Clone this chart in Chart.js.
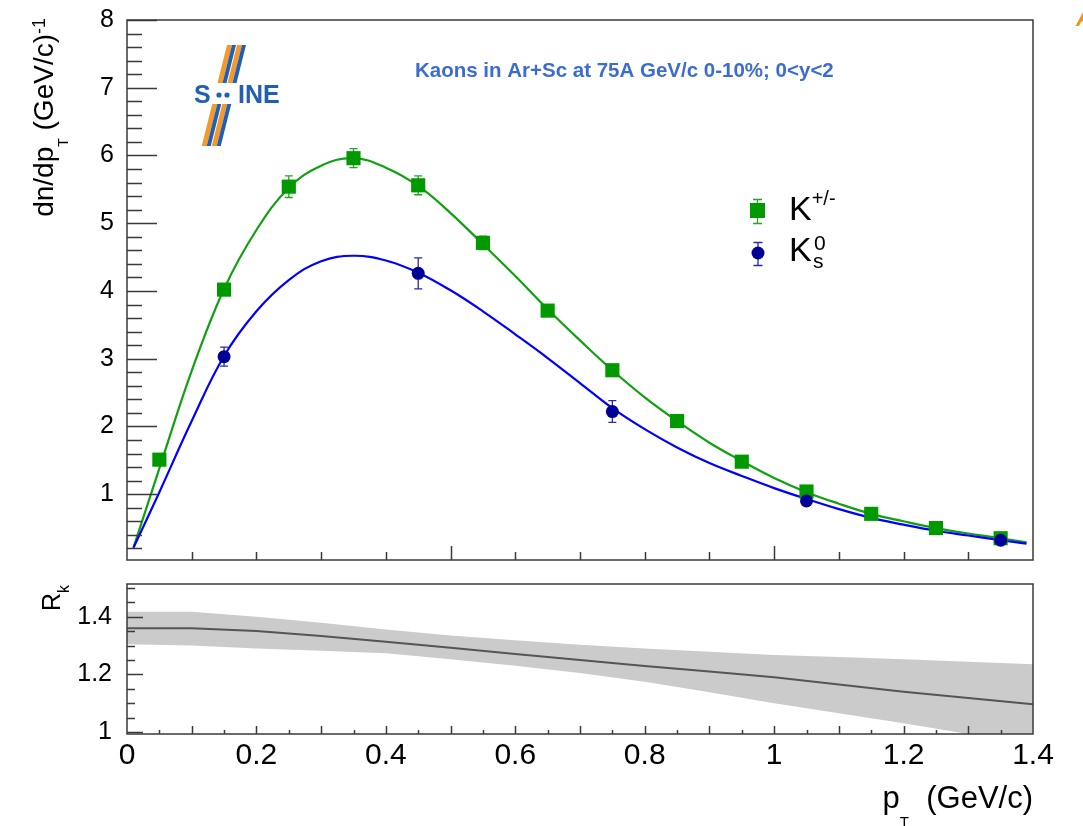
<!DOCTYPE html>
<html>
<head>
<meta charset="utf-8">
<title>Kaons in Ar+Sc at 75A GeV/c</title>
<script src="https://cdn.jsdelivr.net/npm/chart.js@4/dist/chart.umd.min.js"></script>
<style>
    html, body { margin: 0; padding: 0; background: #fff; }
    #wrap { position: relative; width: 1083px; height: 826px; overflow: hidden; background: #fff; }
    canvas { position: absolute; left: 0; }
    #topChart { top: 0; }
    #ratioChart { top: 556px; }
</style>
</head>
<body>
<div id="wrap">
    <canvas id="topChart" width="1083" height="580"></canvas>
    <canvas id="ratioChart" width="1083" height="270"></canvas>
</div>
<script>
// fit curves
const fitX = [0.01, 0.05, 0.10, 0.15, 0.20, 0.25, 0.30, 0.35, 0.40, 0.45, 0.50, 0.55, 0.60, 0.65, 0.70,
              0.75, 0.80, 0.85, 0.90, 0.95, 1.00, 1.05, 1.10, 1.15, 1.20, 1.25, 1.30, 1.35, 1.39];
const fitKch = [0.21, 1.38, 2.82, 4.03, 4.90, 5.52, 5.85, 5.96, 5.82, 5.55, 5.15, 4.69, 4.22, 3.73, 3.27,
                2.83, 2.43, 2.08, 1.76, 1.49, 1.24, 1.03, 0.86, 0.71, 0.60, 0.50, 0.42, 0.35, 0.29];
const fitK0 = [0.21, 1.03, 2.08, 3.04, 3.70, 4.16, 4.44, 4.52, 4.45, 4.27, 4.01, 3.70, 3.36, 3.01, 2.64,
               2.27, 1.96, 1.69, 1.46, 1.27, 1.09, 0.93, 0.78, 0.65, 0.55, 0.46, 0.39, 0.32, 0.27];

// measured points
const kchX = [0.05, 0.15, 0.25, 0.35, 0.45, 0.55, 0.65, 0.75, 0.85, 0.95, 1.05, 1.15, 1.25, 1.35];
const kch = [1.51, 4.02, 5.54, 5.96, 5.56, 4.71, 3.71, 2.83, 2.08, 1.48, 1.04, 0.71, 0.50, 0.35];
const kchErr = [0.05, 0.08, 0.16, 0.14, 0.14, 0.10, 0.08, 0.06, 0.05, 0.04, 0.04, 0.03, 0.03, 0.02];
const k0X = [0.15, 0.45, 0.75, 1.05, 1.35];
const k0 = [3.03, 4.26, 2.22, 0.90, 0.32];
const k0Err = [0.14, 0.23, 0.16, 0.05, 0.04];

// ratio panel R_k with its band
const ratioX = [0, 0.1, 0.2, 0.3, 0.4, 0.5, 0.6, 0.7, 0.8, 0.9, 1.0, 1.1, 1.2, 1.3, 1.4];
const ratio = [1.36, 1.36, 1.35, 1.333, 1.313, 1.292, 1.271, 1.25, 1.229, 1.21, 1.19, 1.165, 1.14, 1.118, 1.096];
const ratioHi = [1.417, 1.417, 1.40, 1.379, 1.356, 1.335, 1.318, 1.303, 1.29, 1.278, 1.267, 1.26, 1.252, 1.244, 1.235];
const ratioLo = [1.304, 1.30, 1.29, 1.282, 1.273, 1.252, 1.23, 1.205, 1.174, 1.138, 1.10, 1.065, 1.03, 0.993, 0.958];

// tick labels
const topYTicks = [1, 2, 3, 4, 5, 6, 7, 8];
const ratioYTicks = [1, 1.2, 1.4];
const ratioXTicks = [0, 0.2, 0.4, 0.6, 0.8, 1.0, 1.2, 1.4];

const FONT = '"Liberation Sans", Arial, Helvetica, sans-serif';
Chart.defaults.font.family = FONT;
Chart.defaults.color = '#000';

const RATIO_TOP = 556; // page offset of the ratio canvas

function pts(xs, ys) {
    return xs.map((x, i) => ({ x: x, y: ys[i] }));
}

function range(a, b, step) {
    const out = [];
    for (let v = a; v <= b + 1e-9; v += step) out.push(Math.round(v * 1000) / 1000);
    return out;
}

function fmt(v) {
    return String(Math.round(v * 100) / 100);
}

// text with sub/superscripts: parts = [text, size, dy]
function richText(ctx, parts, x, y, align, weight) {
    let w = 0;
    parts.forEach(p => {
        ctx.font = (weight || '') + ' ' + p[1] + 'px ' + FONT;
        w += ctx.measureText(p[0]).width;
    });
    let cx = align === 'right' ? x - w : x;
    ctx.textAlign = 'left';
    ctx.textBaseline = 'alphabetic';
    parts.forEach(p => {
        ctx.font = (weight || '') + ' ' + p[1] + 'px ' + FONT;
        ctx.fillText(p[0], cx, y + (p[2] || 0));
        cx += ctx.measureText(p[0]).width;
    });
}

// ROOT style frame with ticks on the inside
function frameTicks(spec) {
    return {
        id: 'frameTicks',
        afterDraw(chart) {
            const { ctx, chartArea: a, scales: { x, y } } = chart;
            ctx.save();
            ctx.strokeStyle = '#3a3a3a';
            ctx.lineWidth = 1.5;
            ctx.strokeRect(a.left, a.top, a.right - a.left, a.bottom - a.top);
            ctx.beginPath();
            spec.x.forEach(([vals, len]) => vals.forEach(v => {
                const px = Math.round(x.getPixelForValue(v)) + 0.5;
                ctx.moveTo(px, a.bottom);
                ctx.lineTo(px, a.bottom - len);
            }));
            spec.y.forEach(([vals, len]) => vals.forEach(v => {
                const py = Math.round(y.getPixelForValue(v)) + 0.5;
                ctx.moveTo(a.left, py);
                ctx.lineTo(a.left + len, py);
            }));
            ctx.stroke();
            ctx.restore();
        }
    };
}

function drawBars(ctx, x, y, xs, ys, errs, color) {
    ctx.strokeStyle = color;
    ctx.lineWidth = 1.3;
    ctx.beginPath();
    xs.forEach((xv, i) => {
        const px = x.getPixelForValue(xv);
        const y0 = y.getPixelForValue(ys[i] - errs[i]);
        const y1 = y.getPixelForValue(ys[i] + errs[i]);
        ctx.moveTo(px, y0); ctx.lineTo(px, y1);
        ctx.moveTo(px - 4, y0); ctx.lineTo(px + 4, y0);
        ctx.moveTo(px - 4, y1); ctx.lineTo(px + 4, y1);
    });
    ctx.stroke();
}

const errorBars = {
    id: 'errorBars',
    beforeDatasetsDraw(chart) {
        const { ctx, scales: { x, y } } = chart;
        ctx.save();
        drawBars(ctx, x, y, kchX, kch, kchErr, '#25a525');
        drawBars(ctx, x, y, k0X, k0, k0Err, '#2a2aa8');
        ctx.restore();
    }
};

function drawLogo(ctx) {
    ctx.save();
    // slanted stripes, broken around the lettering
    const stripes = [[227, '#f39a2b', 5], [232, '#1f5fb4', 4], [237, '#f39a2b', 5], [242, '#1f5fb4', 4]];
    const slope = -25 / 100;
    [[45, 83], [104, 146]].forEach(([t, b]) => {
        stripes.forEach(([x0, col, w]) => {
            const xt = x0 + slope * (t - 45);
            const xb = x0 + slope * (b - 45);
            ctx.fillStyle = col;
            ctx.beginPath();
            ctx.moveTo(xt, t); ctx.lineTo(xt + w, t);
            ctx.lineTo(xb + w, b); ctx.lineTo(xb, b);
            ctx.closePath();
            ctx.fill();
        });
    });
    ctx.fillStyle = '#1f5fb4';
    ctx.font = 'bold 25px ' + FONT;
    ctx.textBaseline = 'alphabetic';
    ctx.textAlign = 'left';
    ctx.fillText('S', 194, 103);
    ctx.fillText('INE', 238, 103);
    ctx.beginPath();
    ctx.arc(219, 95, 2.6, 0, Math.PI * 2);
    ctx.arc(227, 95, 2.6, 0, Math.PI * 2);
    ctx.fill();
    ctx.restore();
}

const topDecor = {
    id: 'topDecor',
    afterDraw(chart) {
        const ctx = chart.ctx;
        ctx.save();
        ctx.fillStyle = '#000';

        // y axis title
        ctx.save();
        ctx.translate(53, 18);
        ctx.rotate(-Math.PI / 2);
        richText(ctx, [['dn/dp', 28, 0], ['T', 14, 15], [' (GeV/c)', 28, 0], ['-1', 18, -8]], 0, 0, 'right');
        ctx.restore();

        // caption
        ctx.fillStyle = '#3d6cd1';
        ctx.font = 'bold 20.5px ' + FONT;
        ctx.textAlign = 'left';
        ctx.textBaseline = 'alphabetic';
        ctx.fillText('Kaons in Ar+Sc at 75A GeV/c 0-10%; 0<y<2', 415, 77);

        // clipped letter at the right edge
        ctx.fillStyle = '#f29419';
        ctx.font = 'italic bold 24px ' + FONT;
        ctx.fillText('A', 1076, 26);

        drawLogo(ctx);

        // legend
        ctx.strokeStyle = '#25a525';
        ctx.lineWidth = 1.3;
        ctx.beginPath();
        ctx.moveTo(757.5, 199); ctx.lineTo(757.5, 224);
        ctx.moveTo(753, 199.5); ctx.lineTo(762, 199.5);
        ctx.moveTo(753, 223.5); ctx.lineTo(762, 223.5);
        ctx.stroke();
        ctx.fillStyle = '#009900';
        ctx.fillRect(750, 203, 15, 15);

        ctx.strokeStyle = '#2a2aa8';
        ctx.beginPath();
        ctx.moveTo(758, 242); ctx.lineTo(758, 266);
        ctx.moveTo(753.5, 242.5); ctx.lineTo(762.5, 242.5);
        ctx.moveTo(753.5, 265.5); ctx.lineTo(762.5, 265.5);
        ctx.stroke();
        ctx.fillStyle = '#000099';
        ctx.beginPath();
        ctx.arc(758, 253, 6.5, 0, Math.PI * 2);
        ctx.fill();

        ctx.fillStyle = '#000';
        richText(ctx, [['K', 34, 0], ['+/-', 20, -15]], 789, 220, 'left');
        richText(ctx, [['K', 34, 0]], 789, 261, 'left');
        richText(ctx, [['0', 21, 0]], 814, 250, 'left');
        richText(ctx, [['s', 21, 0]], 813, 268, 'left');
        ctx.restore();
    }
};

const ratioDecor = {
    id: 'ratioDecor',
    afterDraw(chart) {
        const ctx = chart.ctx;
        ctx.save();
        ctx.fillStyle = '#000';
        // R_k title
        ctx.save();
        ctx.translate(60, 585 - RATIO_TOP);
        ctx.rotate(-Math.PI / 2);
        richText(ctx, [['R', 25, 0], ['k', 16, 9]], 0, 0, 'right');
        ctx.restore();
        // x axis title
        richText(ctx, [['p', 31, 0], ['T', 15, 19], ['  (GeV/c)', 31, 0]], 1033, 808 - RATIO_TOP, 'right');
        ctx.restore();
    }
};

// upper panel
new Chart(document.getElementById('topChart'), {
    type: 'scatter',
    data: {
        datasets: [
            {
                data: pts(k0X, k0),
                pointStyle: 'circle',
                pointRadius: 6.5,
                backgroundColor: '#000099',
                borderColor: '#000099',
                borderWidth: 0,
                showLine: false
            },
            {
                data: pts(kchX, kch),
                pointStyle: 'rect',
                pointRadius: 10,
                backgroundColor: '#009900',
                borderColor: '#009900',
                borderWidth: 0,
                showLine: false
            },
            {
                data: pts(fitX, fitK0),
                showLine: true,
                borderColor: '#0000ff',
                borderWidth: 2.2,
                pointRadius: 0,
                tension: 0.4
            },
            {
                data: pts(fitX, fitKch),
                showLine: true,
                borderColor: '#10a010',
                borderWidth: 2.2,
                pointRadius: 0,
                tension: 0.4
            }
        ]
    },
    options: {
        responsive: false,
        animation: false,
        devicePixelRatio: 1,
        events: [],
        layout: { padding: { left: 0, right: 50, top: 18, bottom: 4 } },
        plugins: {
            legend: { display: false },
            tooltip: { enabled: false }
        },
        scales: {
            x: { type: 'linear', display: false, min: 0, max: 1.4 },
            y: {
                type: 'linear',
                min: 0.0286,
                max: 8,
                afterFit: s => { s.width = 127; },
                afterBuildTicks: s => { s.ticks = topYTicks.map(v => ({ value: v })); },
                ticks: { font: { size: 25 }, padding: 5, color: '#000', callback: v => fmt(v) },
                grid: { display: false },
                border: { display: false }
            }
        }
    },
    plugins: [
        errorBars,
        frameTicks({
            x: [[[0.5, 1.0], 14], [[0.1, 0.2, 0.3, 0.4, 0.6, 0.7, 0.8, 0.9, 1.1, 1.2, 1.3], 8]],
            y: [[topYTicks, 30], [range(0.2, 7.8, 0.2).filter(v => Math.abs(v - Math.round(v)) > 0.01), 15]]
        }),
        topDecor
    ]
});

// ratio panel
new Chart(document.getElementById('ratioChart'), {
    type: 'scatter',
    data: {
        datasets: [
            {
                data: pts(ratioX, ratio),
                showLine: true,
                borderColor: '#555',
                borderWidth: 2,
                pointRadius: 0,
                tension: 0
            },
            {
                data: pts(ratioX, ratioHi),
                showLine: true,
                borderColor: 'rgba(0,0,0,0)',
                backgroundColor: '#cbcbcb',
                pointRadius: 0,
                fill: '+1',
                tension: 0
            },
            {
                data: pts(ratioX, ratioLo),
                showLine: true,
                borderColor: 'rgba(0,0,0,0)',
                pointRadius: 0,
                tension: 0
            }
        ]
    },
    options: {
        responsive: false,
        animation: false,
        devicePixelRatio: 1,
        events: [],
        layout: { padding: { left: 0, right: 50, top: 584 - RATIO_TOP, bottom: 0 } },
        plugins: {
            legend: { display: false },
            tooltip: { enabled: false }
        },
        scales: {
            x: {
                type: 'linear',
                min: 0,
                max: 1.4,
                afterFit: s => { s.height = 92; },
                afterBuildTicks: s => { s.ticks = ratioXTicks.map(v => ({ value: v })); },
                ticks: { font: { size: 30, lineHeight: 0.78 }, padding: 2, maxRotation: 0, autoSkip: false, color: '#000', callback: v => fmt(v) },
                grid: { display: false },
                border: { display: false }
            },
            y: {
                type: 'linear',
                min: 0.993,
                max: 1.5135,
                afterFit: s => { s.width = 127; s.paddingTop = 0; s.paddingBottom = 0; },
                afterBuildTicks: s => { s.ticks = ratioYTicks.map(v => ({ value: v })); },
                ticks: { font: { size: 25 }, padding: 7, color: '#000', callback: v => fmt(v) },
                grid: { display: false },
                border: { display: false }
            }
        }
    },
    plugins: [
        frameTicks({
            x: [[range(0.1, 1.3, 0.1), 8], [range(0.05, 1.35, 0.1), 4]],
            y: [[ratioYTicks, 16], [range(1.05, 1.5, 0.05).filter(v => ratioYTicks.indexOf(v) < 0), 8]]
        }),
        ratioDecor
    ]
});
</script>
</body>
</html>
